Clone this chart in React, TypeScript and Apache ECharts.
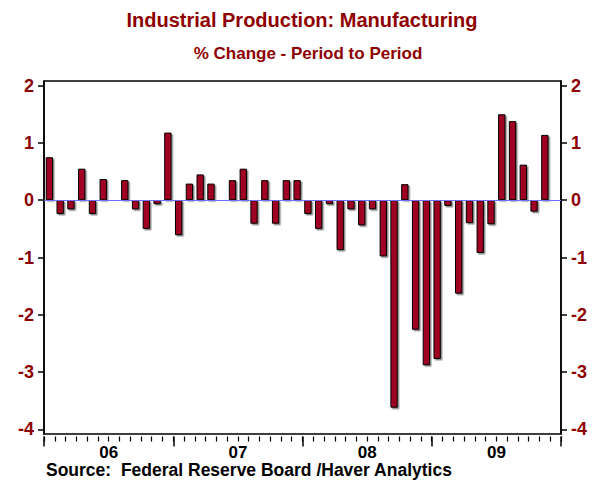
import React, { useEffect, useRef } from "react";
import * as echarts from "echarts";

const months: string[] = [];
const yearsShort = ["06", "07", "08", "09"];
for (const y of yearsShort) {
  for (let m = 1; m <= 12; m++) months.push(`${y}-${m < 10 ? "0" + m : m}`);
}

// % change, Jan 2006 .. Dec 2009 (Dec 2009 not yet available)
const values: (number | null)[] = [
  0.75, -0.24, -0.16, 0.55, -0.24, 0.37, 0.0, 0.35, -0.16, -0.5, -0.07, 1.18,
  -0.61, 0.29, 0.45, 0.29, 0.0, 0.35, 0.55, -0.41, 0.35, -0.41, 0.35, 0.35,
  -0.24, -0.5, -0.07, -0.87, -0.16, -0.44, -0.16, -0.98, -3.62, 0.28, -2.26, -2.88,
  -2.77, -0.1, -1.63, -0.4, -0.92, -0.42, 1.5, 1.38, 0.62, -0.2, 1.14, null,
];

const yTicks = [-4, -3, -2, -1, 0, 1, 2];

const TITLE = "Industrial Production: Manufacturing";
const SUBTITLE = "% Change - Period to Period";
const SOURCE = "Source:  Federal Reserve Board /Haver Analytics";

const FONT = '"Liberation Sans", Arial, Helvetica, sans-serif';
const RED = "#8e0000";

export default function App() {
  const ref = useRef<HTMLDivElement>(null);
  useEffect(() => {
    if (!ref.current) return;
    const chart = echarts.init(ref.current, undefined, { renderer: "svg" });
    const yAxisCommon = {
      type: "value" as const,
      min: -4.08,
      max: 2.08,
      splitLine: { show: false },
      axisLine: { show: true, lineStyle: { color: "#000", width: 1.5 } },
      axisTick: {
        show: true,
        length: 6,
        inside: false,
        customValues: yTicks,
        lineStyle: { color: "#000", width: 1.5 },
      },
      axisLabel: {
        customValues: yTicks,
        color: RED,
        fontSize: 18,
        fontWeight: "bold" as const,
        fontFamily: FONT,
        margin: 10,
      },
    };
    chart.setOption({
      animation: false,
      backgroundColor: "#fff",
      grid: {
        left: 44,
        right: 39,
        top: 81,
        bottom: 46,
        show: true,
        borderColor: "#000",
        borderWidth: 1.5,
        backgroundColor: "transparent",
      },
      graphic: [
        {
          type: "text",
          x: 302,
          y: 20,
          style: {
            text: TITLE,
            fill: RED,
            font: `bold 20px ${FONT}`,
            textAlign: "center",
            textVerticalAlign: "middle",
          },
        },
        {
          type: "text",
          x: 308,
          y: 53,
          style: {
            text: SUBTITLE,
            fill: RED,
            font: `bold 17px ${FONT}`,
            textAlign: "center",
            textVerticalAlign: "middle",
          },
        },
        {
          type: "text",
          x: 46,
          y: 470,
          style: {
            text: SOURCE,
            fill: "#000",
            font: `bold 17.5px ${FONT}`,
            lineHeight: 14,
            textAlign: "left",
            textVerticalAlign: "middle",
          },
        },
      ],
      xAxis: [
        {
          type: "category",
          data: months,
          position: "bottom",
          axisLine: { show: false, onZero: false },
          axisTick: { show: false },
          axisLabel: { show: false },
          splitLine: { show: false },
        },
        {
          type: "category",
          data: months,
          position: "bottom",
          offset: 2.5,
          boundaryGap: true,
          axisLine: { show: false, onZero: false },
          axisTick: {
            show: true,
            interval: 0,
            length: 5,
            lineStyle: { color: "#000", width: 1.2 },
          },
          axisLabel: { show: false },
        },
        {
          type: "category",
          data: yearsShort,
          position: "bottom",
          offset: 2.5,
          boundaryGap: true,
          axisLine: { show: false, onZero: false },
          axisTick: {
            show: true,
            interval: 0,
            length: 10,
            lineStyle: { color: "#000", width: 1.5 },
          },
          axisLabel: {
            color: "#000",
            fontSize: 17,
            fontWeight: "bold",
            fontFamily: FONT,
            lineHeight: 13,
            margin: 9,
          },
        },
      ],
      yAxis: [
        { ...yAxisCommon, position: "left" },
        { ...yAxisCommon, position: "right" },
      ],
      series: [
        {
          type: "bar",
          xAxisIndex: 0,
          yAxisIndex: 0,
          data: values.map((v) => (v === null ? "-" : v)),
          barCategoryGap: "32%",
          itemStyle: {
            color: "#a00020",
            borderColor: "#000",
            borderWidth: 1,
            shadowColor: "rgba(0,0,0,0.45)",
            shadowBlur: 1,
            shadowOffsetX: 1.5,
            shadowOffsetY: 1.5,
          },
          markLine: {
            silent: true,
            symbol: "none",
            label: { show: false },
            z: 10,
            lineStyle: { color: "#7070ff", width: 1.2, type: "solid" },
            data: [{ yAxis: 0 }],
          },
        },
      ],
    });
    return () => chart.dispose();
  }, []);
  return (
    <div
      ref={ref}
      style={{ position: "fixed", left: 0, top: 0, width: 600, height: 480 }}
    />
  );
}
